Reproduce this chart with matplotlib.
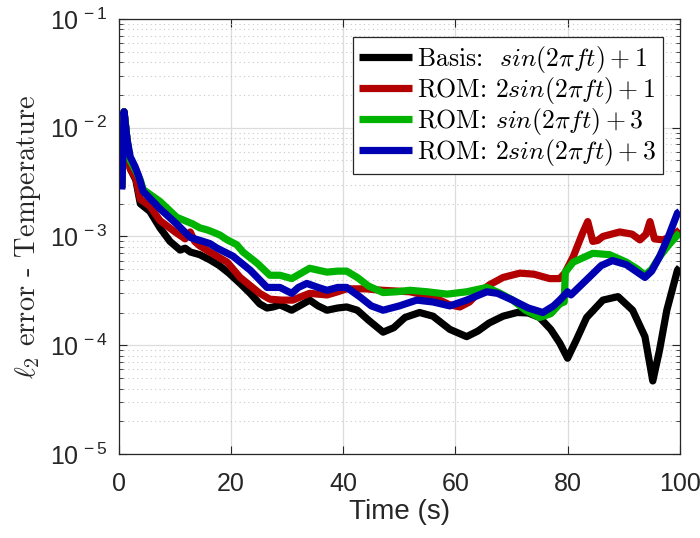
import matplotlib
matplotlib.use('Agg')
import matplotlib.pyplot as plt
from matplotlib.ticker import LogLocator, NullFormatter, FixedLocator

# values (time in s, l2 error)
t_basis = [0.5, 0.9, 1.4, 2.0, 3.0, 3.8, 5.5, 7.3, 9.1, 10.9, 11.8, 12.7, 14.4, 16.2, 17.9,
           19.6, 21.6, 23.4, 25.1, 26.4, 27.5, 28.7, 30.8, 32.5, 34.0, 35.5, 37.1, 39.0, 40.6,
           42.5, 44.5, 47.1, 49.0, 51.0, 53.6, 56.0, 59.0, 62.0, 64.0, 66.0, 68.5, 71.0, 73.0,
           75.0, 77.0, 78.6, 80.0, 81.5, 83.4, 86.3, 89.0, 91.6, 93.8, 95.2, 96.4, 97.7, 99.6, 100]
err_basis = [2.8e-3, 1.4e-2, 8e-3, 4.2e-3, 3.3e-3, 2.0e-3, 1.7e-3, 1.2e-3, 9.0e-4, 7.5e-4,
             7.8e-4, 7.2e-4, 6.8e-4, 6.1e-4, 5.4e-4, 4.6e-4, 3.7e-4, 3.0e-4, 2.4e-4, 2.2e-4,
             2.25e-4, 2.35e-4, 2.1e-4, 2.35e-4, 2.6e-4, 2.3e-4, 2.1e-4, 2.2e-4, 2.25e-4,
             2.1e-4, 1.7e-4, 1.32e-4, 1.45e-4, 1.8e-4, 2.0e-4, 1.85e-4, 1.4e-4, 1.2e-4, 1.35e-4,
             1.6e-4, 1.85e-4, 2.0e-4, 1.98e-4, 1.8e-4, 1.4e-4, 1.05e-4, 7.6e-5, 1.1e-4, 1.8e-4,
             2.6e-4, 2.8e-4, 2.1e-4, 1.2e-4, 4.7e-5, 9.0e-5, 2.1e-4, 4.9e-4, 5.2e-4]

t_rom1 = [0.5, 0.9, 1.4, 2.0, 3.0, 3.8, 5.5, 7.3, 10.0, 11.8, 12.7, 13.5, 14.4, 16.2, 19.3,
          21.6, 25.1, 26.9, 29.0, 31.0, 32.5, 34.0, 35.5, 37.1, 39.0, 40.6, 44.0, 47.0, 51.9,
          54.5, 57.2, 59.0, 60.8, 62.5, 64.0, 66.1, 68.5, 71.5, 74.0, 76.8, 78.6, 79.5, 81.0,
          82.7, 83.6, 84.5, 85.4, 86.3, 89.3, 91.5, 92.9, 94.0, 94.7, 95.5, 97.0, 98.5, 99.6, 100]
err_rom1 = [2.8e-3, 1.4e-2, 8e-3, 4.2e-3, 3.4e-3, 2.2e-3, 1.9e-3, 1.4e-3, 1.1e-3, 9.5e-4,
            1.1e-3, 9.0e-4, 8.2e-4, 7.2e-4, 5.8e-4, 4.2e-4, 3.0e-4, 2.65e-4, 2.6e-4, 2.6e-4,
            2.8e-4, 3.0e-4, 2.95e-4, 2.9e-4, 3.1e-4, 3.3e-4, 3.3e-4, 3.2e-4, 3.1e-4, 2.9e-4,
            2.6e-4, 2.35e-4, 2.25e-4, 2.5e-4, 3.0e-4, 3.6e-4, 4.2e-4, 4.6e-4, 4.5e-4, 4.1e-4,
            4.1e-4, 4.6e-4, 6.5e-4, 1.08e-3, 1.37e-3, 9.0e-4, 9.2e-4, 1.0e-3, 1.1e-3, 1.05e-3,
            9.3e-4, 1.05e-3, 1.37e-3, 9.5e-4, 9.3e-4, 1.0e-3, 1.1e-3, 1.15e-3]

t_rom2 = [0.5, 0.9, 1.4, 2.0, 3.0, 3.8, 4.3, 7.3, 10.3, 13.2, 14.4, 15.7, 16.7, 18.0, 19.3,
          21.0, 22.1, 24.6, 26.9, 28.7, 30.8, 32.5, 34.0, 35.5, 37.1, 39.0, 40.6, 42.5, 44.5,
          47.1, 49.5, 51.9, 55.0, 58.5, 62.0, 65.6, 68.0, 70.2, 72.5, 75.0, 77.0, 78.6, 79.4,
          79.6, 81.0, 84.5, 87.5, 90.5, 92.5, 93.8, 95.0, 96.4, 98.0, 99.6, 100]
err_rom2 = [2.8e-3, 1.4e-2, 8e-3, 5.0e-3, 4.0e-3, 3.3e-3, 2.7e-3, 2.1e-3, 1.5e-3, 1.3e-3,
            1.2e-3, 1.15e-3, 1.1e-3, 1.03e-3, 9.3e-4, 8.4e-4, 7.2e-4, 5.7e-4, 4.4e-4, 4.4e-4,
            4.1e-4, 4.6e-4, 5.1e-4, 4.9e-4, 4.7e-4, 4.8e-4, 4.8e-4, 4.2e-4, 3.5e-4, 3.05e-4,
            3.1e-4, 3.2e-4, 3.1e-4, 2.95e-4, 3.1e-4, 3.4e-4, 3.0e-4, 2.6e-4, 2.1e-4, 1.8e-4,
            1.95e-4, 2.4e-4, 2.5e-4, 4.7e-4, 5.8e-4, 7.0e-4, 6.8e-4, 5.8e-4, 5.0e-4, 4.4e-4,
            5.0e-4, 6.5e-4, 8.3e-4, 1.03e-3, 1.08e-3]

t_rom3 = [0.5, 0.9, 1.4, 2.0, 2.85, 3.5, 4.3, 7.3, 10.3, 12.7, 15.0, 16.2, 17.5, 20.3, 23.4,
          26.4, 28.7, 30.8, 32.0, 33.5, 35.5, 37.1, 39.0, 40.6, 42.9, 45.0, 47.1, 50.0, 53.1,
          56.0, 59.0, 62.0, 65.6, 67.5, 70.2, 73.0, 75.6, 77.5, 78.6, 80.0, 80.6, 83.4, 86.0,
          88.0, 90.5, 93.8, 95.0, 96.4, 98.0, 99.6, 100]
err_rom3 = [2.7e-3, 1.4e-2, 8e-3, 5.4e-3, 4.4e-3, 3.6e-3, 2.6e-3, 1.8e-3, 1.3e-3, 9.8e-4,
            9.0e-4, 8.6e-4, 7.8e-4, 6.6e-4, 4.9e-4, 3.4e-4, 3.4e-4, 3.0e-4, 3.4e-4, 3.7e-4,
            3.4e-4, 3.2e-4, 3.4e-4, 3.4e-4, 2.8e-4, 2.3e-4, 2.1e-4, 2.3e-4, 2.6e-4, 2.5e-4,
            2.3e-4, 2.6e-4, 3.1e-4, 3.0e-4, 2.6e-4, 2.2e-4, 2.0e-4, 2.3e-4, 2.6e-4, 3.1e-4,
            2.9e-4, 4.0e-4, 5.4e-4, 6.0e-4, 5.5e-4, 4.2e-4, 4.8e-4, 6.5e-4, 1.0e-3, 1.64e-3,
            1.7e-3]

labels = [r'Basis:  $sin(2\pi ft) + 1$',
          r'ROM: $2sin(2\pi ft) + 1$',
          r'ROM: $sin(2\pi ft) + 3$',
          r'ROM: $2sin(2\pi ft) + 3$']
colors = ['#000000', '#b30000', '#00b300', '#0000b3']

plt.rcParams['font.family'] = ['Liberation Sans', 'DejaVu Sans']
plt.rcParams['mathtext.fontset'] = 'cm'

axc = '#262626'
fig = plt.figure(figsize=(7, 5.38), dpi=100)
ax = fig.add_axes([0.17, 0.156, 0.801, 0.809])

series = [(t_basis, err_basis), (t_rom1, err_rom1), (t_rom2, err_rom2), (t_rom3, err_rom3)]
for (t, e), c, lab in zip(series, colors, labels):
    ax.plot(t, e, color=c, lw=5.2, label=lab, solid_joinstyle='round', solid_capstyle='butt')

ax.set_yscale('log')
ax.set_xlim(0, 100)
ax.set_ylim(1e-5, 1e-1)
ax.set_xticks([0, 20, 40, 60, 80, 100])
ax.yaxis.set_major_locator(FixedLocator([1e-5, 1e-4, 1e-3, 1e-2, 1e-1]))
ax.yaxis.set_minor_locator(LogLocator(base=10, subs=range(2, 10)))
ax.yaxis.set_minor_formatter(NullFormatter())
ax.set_yticklabels([r'$\mathdefault{10^{\,-5}}$', r'$\mathdefault{10^{\,-4}}$',
                    r'$\mathdefault{10^{\,-3}}$', r'$\mathdefault{10^{\,-2}}$',
                    r'$\mathdefault{10^{\,-1}}$'])

ax.grid(True, which='major', color='#dcdcdc', lw=0.9)
ax.grid(True, which='minor', axis='y', color='#c8c8c8', lw=0.8, ls=(0, (1, 3)))
ax.tick_params(which='both', direction='in', top=True, right=True, colors=axc, labelsize=18)
ax.tick_params(axis='x', pad=13)
ax.tick_params(axis='y', pad=8)
ax.tick_params(which='major', length=6)
ax.tick_params(which='minor', length=3)
for s in ax.spines.values():
    s.set_color(axc)
    s.set_linewidth(0.9)

ax.set_xlabel('Time (s)', fontsize=20, color=axc, labelpad=2)
ax.set_ylabel(r'$\ell_2$ error - Temperature', fontfamily='cmr10', math_fontfamily='cm',
              fontsize=20.5, color=axc, labelpad=5)

leg = ax.legend(loc='upper right', bbox_to_anchor=(0.97, 0.958),
                prop={'family': 'cmr10', 'size': 18.5},
                frameon=True, fancybox=False, edgecolor=axc, framealpha=1,
                handlelength=2.05, handletextpad=0.2, labelspacing=0.0, borderpad=0.25,
                borderaxespad=0)
leg.get_frame().set_linewidth(0.9)
for txt in leg.get_texts():
    txt.set_math_fontfamily('cm')

fig.savefig('out.png', dpi=100)
